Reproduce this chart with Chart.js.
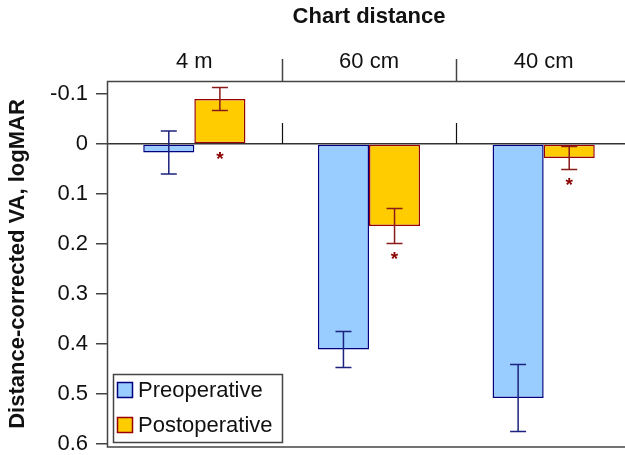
<!DOCTYPE html>
<html>
<head>
<meta charset="utf-8">
<script src="https://cdn.jsdelivr.net/npm/chart.js@4.4.1/dist/chart.umd.min.js"></script>
<style>
html, body { margin: 0; padding: 0; background: #fff; overflow: hidden; }
#wrap { width: 631px; height: 455px; }
</style>
</head>
<body>
<div id="wrap"><canvas id="chart" width="631" height="455"></canvas></div>
<script>
// Dados (logMAR, eixo invertido)
const categories = ['4 m', '60 cm', '40 cm'];
const seriesNames = ['Preoperative', 'Postoperative'];
const preValues = [0.017, 0.411, 0.508];
const preErrors = [0.043, 0.036, 0.067];
const postValues = [-0.090, 0.164, 0.028];
const postErrors = [0.023, 0.035, 0.023];
const postSignificant = [true, true, true];
const yTickValues = [-0.1, 0, 0.1, 0.2, 0.3, 0.4, 0.5, 0.6];
const yTickLabels = ['-0.1', '0', '0.1', '0.2', '0.3', '0.4', '0.5', '0.6'];

const FONT = "'Liberation Sans', Arial, sans-serif";
const AXIS = '#444';

// Barras de erro, asteriscos, divisões, moldura e legenda
const extrasPlugin = {
    id: 'extras',
    afterDatasetsDraw(chart) {
        const ctx = chart.ctx;
        const y = chart.scales.y;
        chart.data.datasets.forEach((ds, di) => {
            const meta = chart.getDatasetMeta(di);
            meta.data.forEach((bar, i) => {
                const v = ds.data[i], e = ds.errors[i];
                const y1 = y.getPixelForValue(v - e);
                const y2 = y.getPixelForValue(v + e);
                ctx.save();
                ctx.strokeStyle = ds.errorColor;
                ctx.lineWidth = 1.5;
                ctx.beginPath();
                ctx.moveTo(bar.x, y1); ctx.lineTo(bar.x, y2);
                ctx.moveTo(bar.x - 8, y1); ctx.lineTo(bar.x + 8, y1);
                ctx.moveTo(bar.x - 8, y2); ctx.lineTo(bar.x + 8, y2);
                ctx.stroke();
                ctx.restore();
            });
        });

        // asteriscos abaixo das barras pós-operatórias
        const postMeta = chart.getDatasetMeta(1);
        ctx.save();
        ctx.fillStyle = '#8b0000';
        ctx.font = 'bold 19px ' + FONT;
        ctx.textAlign = 'center';
        ctx.textBaseline = 'alphabetic';
        postMeta.data.forEach((bar, i) => {
            if (!postSignificant[i]) return;
            const low = Math.max(0, postValues[i], postValues[i] + postErrors[i]);
            const py = y.getPixelForValue(low) + 10;
            ctx.fillText('*', bar.x, py + 11);
        });
        ctx.restore();
    },
    afterDraw(chart) {
        const ctx = chart.ctx;
        const a = chart.chartArea;
        const x = chart.scales.x;
        const y = chart.scales.y;
        const zeroY = y.getPixelForValue(0);

        ctx.save();
        // divisões entre categorias
        for (let i = 0; i < categories.length - 1; i++) {
            const bx = Math.round((x.getPixelForTick(i) + x.getPixelForTick(i + 1)) / 2) + 0.5;
            ctx.strokeStyle = AXIS;
            ctx.lineWidth = 1.5;
            ctx.beginPath();
            ctx.moveTo(bx, a.top - 22); ctx.lineTo(bx, a.top);
            ctx.stroke();
            ctx.strokeStyle = '#111';
            ctx.lineWidth = 1.2;
            ctx.beginPath();
            ctx.moveTo(bx, zeroY - 21); ctx.lineTo(bx, zeroY);
            ctx.stroke();
        }

        // moldura do gráfico
        ctx.strokeStyle = AXIS;
        ctx.lineWidth = 1.5;
        ctx.beginPath();
        ctx.moveTo(a.right + 2, a.top + 0.5);
        ctx.lineTo(a.left + 0.5, a.top + 0.5);
        ctx.lineTo(a.left + 0.5, a.bottom);
        ctx.lineTo(a.right + 2, a.bottom);
        ctx.stroke();

        // legenda dentro da área do gráfico
        const lx = 113, ly = 374, lw = 169, lh = 68;
        ctx.fillStyle = '#fff';
        ctx.fillRect(lx, ly, lw, lh);
        ctx.strokeStyle = AXIS;
        ctx.lineWidth = 1.5;
        ctx.strokeRect(lx + 0.5, ly + 0.5, lw, lh);
        ctx.font = '22px ' + FONT;
        ctx.textBaseline = 'middle';
        ctx.textAlign = 'left';
        chart.data.datasets.forEach((ds, i) => {
            const cy = 390 + i * 35;
            ctx.fillStyle = ds.backgroundColor;
            ctx.fillRect(117, cy - 8, 16, 16);
            ctx.strokeStyle = ds.borderColor;
            ctx.lineWidth = 1.5;
            ctx.strokeRect(117.5, cy - 7.5, 15, 15);
            ctx.fillStyle = '#111';
            ctx.fillText(seriesNames[i], 138, cy + 1);
        });
        ctx.restore();
    }
};

new Chart(document.getElementById('chart'), {
    type: 'bar',
    data: {
        labels: categories,
        datasets: [
            {
                label: seriesNames[0],
                data: preValues,
                errors: preErrors,
                errorColor: '#1c237e',
                backgroundColor: '#99ccff',
                borderColor: '#000080',
                borderWidth: 1.5,
                borderSkipped: false,
                categoryPercentage: 0.585,
                barPercentage: 1.0
            },
            {
                label: seriesNames[1],
                data: postValues,
                errors: postErrors,
                errorColor: '#8b1a1a',
                backgroundColor: '#ffcc00',
                borderColor: '#990000',
                borderWidth: 1.5,
                borderSkipped: false,
                categoryPercentage: 0.585,
                barPercentage: 1.0
            }
        ]
    },
    options: {
        responsive: false,
        animation: false,
        layout: { padding: { left: 0, right: 0, top: 0, bottom: 8 } },
        plugins: {
            legend: { display: false },
            tooltip: { enabled: false }
        },
        scales: {
            x: {
                position: 'top',
                offset: true,
                border: { display: false },
                grid: { display: false, drawTicks: false },
                ticks: {
                    padding: 6,
                    color: '#111',
                    font: { family: FONT, size: 22 }
                },
                title: {
                    display: true,
                    text: 'Chart distance',
                    color: '#111',
                    font: { family: FONT, size: 22, weight: 'bold' },
                    padding: { top: 4, bottom: 0 }
                },
                afterFit(scale) {
                    scale.height = 81;
                    scale.paddingLeft = 0;
                    scale.paddingRight = 0;
                }
            },
            y: {
                reverse: true,
                min: -0.126,
                max: 0.606,
                border: { display: false },
                grid: {
                    color: (c) => (c.tick && c.tick.value === 0 ? '#333' : 'rgba(0,0,0,0)'),
                    lineWidth: 1.5,
                    tickColor: AXIS,
                    tickLength: 11,
                    drawTicks: true
                },
                ticks: {
                    padding: 8,
                    color: '#111',
                    font: { family: FONT, size: 22 },
                    callback: (value) => {
                        const idx = yTickValues.findIndex(t => Math.abs(t - value) < 1e-9);
                        return idx >= 0 ? yTickLabels[idx] : '';
                    }
                },
                afterBuildTicks(scale) {
                    scale.ticks = yTickValues.map(v => ({ value: v }));
                },
                title: {
                    display: true,
                    text: 'Distance-corrected VA, logMAR',
                    color: '#111',
                    font: { family: FONT, size: 22, weight: 'bold' },
                    padding: { top: 5, bottom: 0 }
                },
                afterFit(scale) {
                    scale.width = 107;
                    scale.paddingTop = 0;
                    scale.paddingBottom = 0;
                }
            }
        }
    },
    plugins: [extrasPlugin]
});
</script>
</body>
</html>
